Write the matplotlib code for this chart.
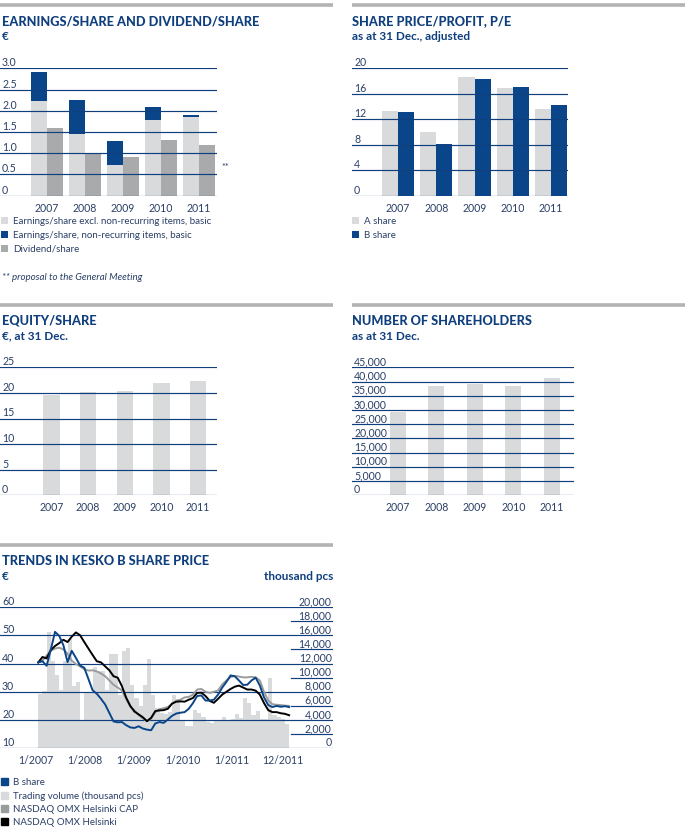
import numpy as np
import matplotlib
matplotlib.use('Agg')
import matplotlib.pyplot as plt
from matplotlib.lines import Line2D
from matplotlib.patches import Patch
from matplotlib.ticker import FuncFormatter

# ---- data ----
years = ['2007', '2008', '2009', '2010', '2011']
eps_excl = [2.23, 1.45, 0.72, 1.78, 1.86]
eps_nonrec = [0.69, 0.80, 0.57, 0.31, 0.03]
dividend = [1.60, 1.00, 0.90, 1.30, 1.20]

pe_a = [13.3, 10.0, 18.6, 16.9, 13.6]
pe_b = [13.1, 8.1, 18.3, 17.1, 14.2]

equity = [19.6, 20.2, 20.4, 21.9, 22.3]

shareholders = [29300, 38400, 39100, 38400, 41200]

# monthly trading volume, thousand pcs, 1/2007 .. 12/2011
volume = [7700, 8100, 16400, 12300, 10400, 8200, 12300, 15500, 8800, 9400,
          4000, 7800, 7800, 11500, 11000, 11000, 8300, 13400, 13300, 7600,
          13800, 14200, 9000, 7100, 6000, 9000, 12700, 7500, 5700, 5000,
          4800, 5100, 7500, 7000, 3800, 3100, 3100, 5400, 5000, 4500,
          3700, 3600, 3800, 4000, 4400, 4000, 4200, 4900, 4300, 7100,
          6400, 4700, 5300, 4200, 4200, 10000, 4700, 4400, 4100, 3500]

# month-start readings, 1/2007 .. end of 12/2011 (61 points)
b_share = [40.4, 40.8, 39.2, 45.0, 51.2, 49.8, 46.5, 40.5, 44.5, 42.0,
           39.3, 38.5, 34.5, 30.5, 29.3, 27.5, 25.5, 22.5, 19.5, 19.2,
           19.3, 18.2, 17.4, 17.2, 17.8, 17.0, 16.6, 16.4, 18.8, 19.3,
           19.0, 20.2, 21.5, 22.3, 22.6, 22.8, 24.0, 26.0, 28.5, 28.7,
           26.9, 26.9, 27.2, 29.0, 31.5, 33.5, 35.8, 35.5, 34.0, 32.4,
           32.5, 34.0, 35.0, 32.2, 28.0, 25.3, 24.6, 25.0, 24.7, 24.9, 24.6]
omx_cap = [40.4, 41.0, 42.8, 44.5, 45.3, 45.6, 45.0, 43.5, 41.0, 39.8,
           39.0, 38.0, 37.5, 37.6, 37.2, 36.5, 35.5, 34.0, 32.5, 31.5,
           30.5, 27.5, 24.8, 23.5, 21.8, 20.6, 19.6, 20.5, 22.8, 23.8,
           24.2, 24.6, 25.8, 26.8, 27.2, 28.0, 28.2, 29.0, 30.8, 31.0,
           30.0, 29.6, 30.0, 30.5, 32.6, 34.0, 35.2, 35.6, 35.4, 35.1,
           35.1, 35.3, 35.1, 34.0, 30.0, 26.9, 25.6, 25.4, 25.3, 25.1, 25.0]
omx = [40.4, 42.3, 41.8, 44.8, 46.2, 47.2, 48.4, 47.6, 49.5, 51.0,
       50.0, 47.6, 45.3, 43.0, 40.8, 40.4, 39.0, 37.6, 35.5, 35.0,
       32.0, 28.0, 25.0, 23.0, 22.0, 21.0, 19.6, 20.8, 23.2, 23.4,
       23.5, 24.0, 25.8, 26.5, 26.6, 26.5, 27.2, 27.8, 29.6, 29.7,
       28.5, 26.8, 26.1, 27.5, 29.0, 30.0, 31.0, 31.8, 32.2, 31.5,
       30.8, 30.8, 30.4, 29.0, 26.0, 23.5, 22.8, 22.8, 22.4, 22.2, 21.7]
date_labels = ['1/2007', '1/2008', '1/2009', '1/2010', '1/2011', '12/2011']
date_pos = [-0.5, 11.2, 22.8, 34.6, 46.3, 58.5]

# ---- style ----
W, H = 689, 836
NAVY = '#0f3f7c'
BLUE = '#0b4589'
LGRAY = '#d9dadc'
MGRAY = '#a9aaac'
CAPGRAY = '#9a9b9d'
TXT = '#2a3f66'
RULE = '#b3b3b3'
plt.rcParams['font.family'] = ['Lato', 'DejaVu Sans']

TICK_FS = 7.6
LEG_FS = 7.0

fig = plt.figure(figsize=(W / 100, H / 100), dpi=100)


def ax_at(x0, y0, x1, y1):
    return fig.add_axes([x0 / W, 1 - y1 / H, (x1 - x0) / W, (y1 - y0) / H])


def ftext(x, y, s, **kw):
    kw.setdefault('va', 'center')
    return fig.text(x / W, 1 - y / H, s, **kw)


def rule(x0, x1, y):
    fig.add_artist(Line2D([x0 / W, x1 / W], [1 - y / H, 1 - y / H],
                          color=RULE, lw=2.6, solid_capstyle='butt'))


def style_axes(ax, yticks, fmt=None):
    for s in ax.spines.values():
        s.set_visible(False)
    ax.set_yticks(yticks)
    if fmt:
        ax.yaxis.set_major_formatter(FuncFormatter(fmt))
    ax.grid(axis='y', color=NAVY, lw=0.85)
    ax.set_axisbelow(False)
    ax.tick_params(axis='y', length=0, pad=-1.5, labelsize=TICK_FS, labelcolor=TXT)
    ax.tick_params(axis='x', length=0, pad=5, labelsize=TICK_FS, labelcolor=TXT)
    for lab in ax.get_yticklabels():
        lab.set_ha('left')
        lab.set_va('bottom')
    ax.set_ylim(yticks[0], yticks[-1])
    ax.set_facecolor('none')


def title(x, y, s):
    ftext(x, y, s, fontsize=9.2, fontweight='black', color=NAVY)


def subtitle(x, y, s):
    ftext(x, y, s, fontsize=8.5, fontweight='bold', color=NAVY)


def legend(handles, labels, x, y, spacing=0.5):
    fig.legend(handles, labels, loc='upper left',
               bbox_to_anchor=(x / W, 1 - y / H), frameon=False,
               fontsize=LEG_FS, labelcolor=TXT, handlelength=0.72,
               handleheight=0.72, handletextpad=0.5, labelspacing=spacing,
               borderpad=0, borderaxespad=0)


# panel rules
rule(0, 333, 5)
rule(352, 685, 5)
rule(0, 333, 305)
rule(352, 685, 305)
rule(0, 333, 545)

# ---- Earnings/share and dividend/share ----
title(2, 21, 'EARNINGS/SHARE AND DIVIDEND/SHARE')
subtitle(2, 37, '€')
ax = ax_at(0, 68.3, 217, 195.7)
x = np.arange(len(years))
w = 0.42
b1 = ax.bar(x - w / 2, eps_excl, w, color=LGRAY, zorder=1)
b2 = ax.bar(x - w / 2, eps_nonrec, w, bottom=eps_excl, color=BLUE, zorder=1)
b3 = ax.bar(x + w / 2, dividend, w, color=MGRAY, zorder=1)
style_axes(ax, [0, 0.5, 1.0, 1.5, 2.0, 2.5, 3.0],
           lambda v, p: '0' if v == 0 else f'{v:.1f}')
ax.set_xlim(-1.237, 4.47)
ax.set_xticks(x, years)
ftext(221, 168, '**', fontsize=6.5, color=TXT)
legend([b1, b2, b3],
       ['Earnings/share excl. non-recurring items, basic',
        'Earnings/share, non-recurring items, basic', 'Dividend/share'],
       1, 217)
ftext(2, 277, '** proposal to the General Meeting', fontsize=LEG_FS,
      style='italic', color=TXT)

# ---- Share price/profit ----
title(352, 21, 'SHARE PRICE/PROFIT, P/E')
subtitle(352, 37, 'as at 31 Dec., adjusted')
ax = ax_at(352, 68.3, 568, 195.7)
pa = ax.bar(x - w / 2, pe_a, w, color=LGRAY, zorder=1)
pb = ax.bar(x + w / 2, pe_b, w, color=BLUE, zorder=1)
style_axes(ax, [0, 4, 8, 12, 16, 20])
ax.set_xlim(-1.2, 4.44)
ax.set_xticks(x, years)
legend([pa, pb], ['A share', 'B share'], 352, 217)

# ---- Equity/share ----
title(2, 321, 'EQUITY/SHARE')
subtitle(2, 336, '€, at 31 Dec.')
ax = ax_at(0, 367.3, 217, 495.3)
ax.bar(x, equity, 0.45, color=LGRAY, zorder=1)
style_axes(ax, [0, 5, 10, 15, 20, 25])
ax.set_xlim(-1.41, 4.52)
ax.set_xticks(x, years)

# ---- Number of shareholders ----
title(352, 321, 'NUMBER OF SHAREHOLDERS')
subtitle(352, 336, 'as at 31 Dec.')
ax = ax_at(352, 367.3, 574, 495.3)
ax.bar(x, shareholders, 0.415, color=LGRAY, zorder=1)
style_axes(ax, list(range(0, 45001, 5000)), lambda v, p: f'{int(v):,}')
ax.set_xlim(-1.19, 4.57)
ax.set_xticks(x, years)

# ---- Trends in Kesko B share price ----
title(2, 561, 'TRENDS IN KESKO B SHARE PRICE')
subtitle(2, 576, '€')
ftext(333, 576, 'thousand pcs', fontsize=8.5, fontweight='bold', color=NAVY,
      ha='right')
ax1 = ax_at(0, 607, 333, 748.3)
ax2 = ax1.twinx()
months = np.arange(len(volume)) + 0.5
t = np.arange(len(b_share))
ax2.bar(months, volume, 1.0, color=LGRAY, linewidth=0)
ax2.set_ylim(0, 20000)
ax2.set_yticks(range(0, 20001, 2000))
ax2.yaxis.set_major_formatter(FuncFormatter(lambda v, p: f'{int(v):,}'))
ax2.tick_params(axis='y', length=0, pad=-1, labelsize=TICK_FS, labelcolor=TXT)
for lab in ax2.get_yticklabels():
    lab.set_ha('right')
    lab.set_va('bottom')
for v in range(2000, 20000, 4000):
    ax2.axhline(v, xmin=291 / 333, xmax=1, color=NAVY, lw=0.85)
for s in ax2.spines.values():
    s.set_visible(False)

ax1.set_zorder(ax2.get_zorder() + 1)
ax1.plot(t, omx_cap, color=CAPGRAY, lw=1.4, zorder=3)
ax1.plot(t, omx, color='black', lw=1.4, zorder=3)
ax1.plot(t, b_share, color=BLUE, lw=1.4, zorder=3)
style_axes(ax1, [10, 20, 30, 40, 50, 60])
ax1.set_xlim(-9.16, 70.5)
ax1.set_xticks(date_pos, date_labels)
ax1.patch.set_visible(False)

legend([Patch(color=BLUE), Patch(color=LGRAY), Patch(color=CAPGRAY),
        Patch(color='black')],
       ['B share', 'Trading volume (thousand pcs)',
        'NASDAQ OMX Helsinki CAP', 'NASDAQ OMX Helsinki'],
       1, 778, spacing=0.42)

fig.savefig('out.png', dpi=100)
